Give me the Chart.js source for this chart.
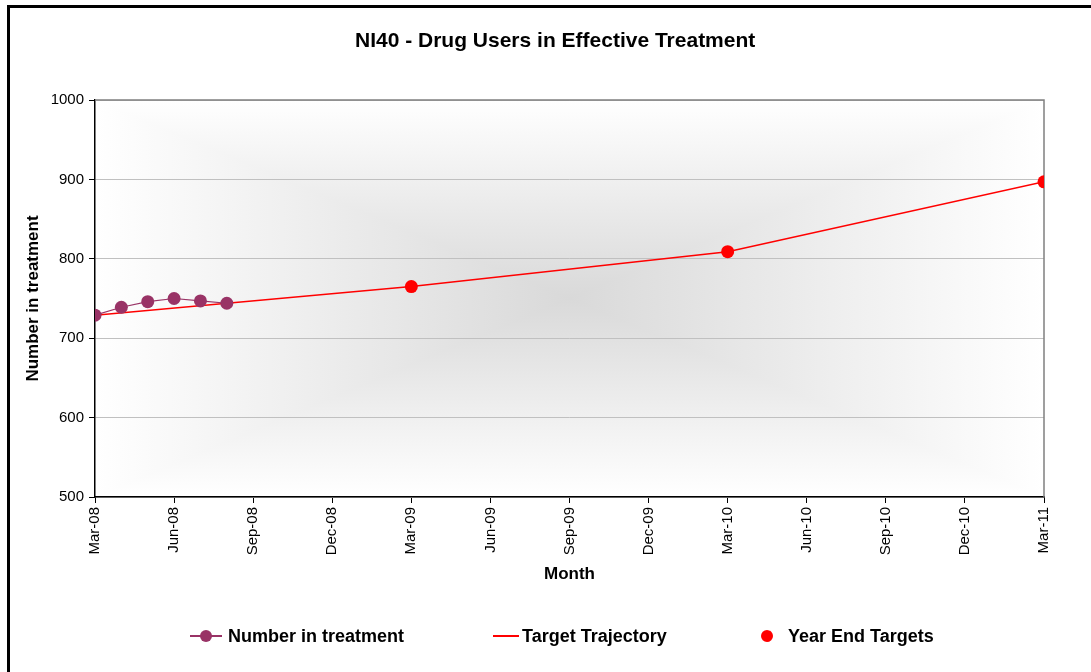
<!DOCTYPE html>
<html>
<head>
<meta charset="utf-8">
<script src="https://cdn.jsdelivr.net/npm/chart.js@4/dist/chart.umd.min.js"></script>
<style>
  html, body { margin: 0; padding: 0; background: #fff; overflow: hidden; }
  #wrap { position: relative; width: 1091px; height: 672px; }
  #frame { position: absolute; left: 7px; top: 5px; width: 1200px; height: 800px; border: 3px solid #000; box-sizing: border-box; pointer-events: none; }
  #title { position: absolute; left: 355px; width: 400px; top: 27px; text-align: center; font: bold 21px "Liberation Sans", Arial, sans-serif; line-height: 26px; white-space: nowrap; }
  .lg { position: absolute; top: 625px; height: 22px; font: bold 18px "Liberation Sans", Arial, sans-serif; color: #000; line-height: 22px; white-space: nowrap; }
  .lg i { position: absolute; display: block; }
</style>
</head>
<body>
<div id="wrap">
  <canvas id="chart" width="1091" height="672"></canvas>
  <div id="frame"></div>
  <div id="title">NI40 - Drug Users in Effective Treatment</div>
  <div class="lg" style="left:190px;padding-left:38px">
    <i style="left:0;top:10px;width:32px;height:1.5px;background:#993366"></i>
    <i style="left:10px;top:5px;width:12px;height:12px;border-radius:50%;background:#993366"></i>
    Number in treatment
  </div>
  <div class="lg" style="left:493px;padding-left:29px">
    <i style="left:0;top:10px;width:26px;height:1.5px;background:#ff0000"></i>
    Target Trajectory
  </div>
  <div class="lg" style="left:761px;padding-left:27px">
    <i style="left:0;top:5px;width:12px;height:12px;border-radius:50%;background:#ff0000"></i>
    Year End Targets
  </div>
</div>
<script>
'use strict';

// x axis runs in months from Mar-08 (0) to Mar-11 (36), labelled quarterly
const tickLabels = ['Mar-08','Jun-08','Sep-08','Dec-08','Mar-09','Jun-09','Sep-09',
                    'Dec-09','Mar-10','Jun-10','Sep-10','Dec-10','Mar-11'];

const treatMonths = [0, 1, 2, 3, 4, 5];
const treatValues = [729, 739, 746, 750, 747, 744];

const targetMonths = [0, 12, 24, 36];
const targetValues = [729, 765, 809, 897];

const yearEndMonths = [12, 24, 36];
const yearEndValues = [765, 809, 897];

const pts = (xs, ys) => xs.map((x, i) => ({ x, y: ys[i] }));

const FONT = '"Liberation Sans", Arial, sans-serif';

/* plot area fill: grey centre fading out to white at the edges */
const plotFill = {
  id: 'plotFill',
  beforeDraw(chart) {
    const { ctx, chartArea: a } = chart;
    const cx = (a.left + a.right) / 2, cy = (a.top + a.bottom) / 2;
    const mid = '#d9d9d9', edge = '#ffffff';
    const grad = (x0, y0, x1, y1) => {
      const g = ctx.createLinearGradient(x0, y0, x1, y1);
      g.addColorStop(0, mid);
      g.addColorStop(1, edge);
      return g;
    };
    ctx.save();
    // left/right halves cover the whole rect, top/bottom wedges go on top
    ctx.fillStyle = grad(cx, 0, a.left, 0);
    ctx.fillRect(a.left, a.top, cx - a.left + 1, a.bottom - a.top);
    ctx.fillStyle = grad(cx, 0, a.right, 0);
    ctx.fillRect(cx, a.top, a.right - cx, a.bottom - a.top);
    const wedge = (y, g) => {
      ctx.beginPath();
      ctx.moveTo(cx, cy); ctx.lineTo(a.left, y); ctx.lineTo(a.right, y); ctx.closePath();
      ctx.fillStyle = g;
      ctx.fill();
    };
    wedge(a.top, grad(0, cy, 0, a.top));
    wedge(a.bottom, grad(0, cy, 0, a.bottom));
    ctx.restore();
  },
  beforeDatasetsDraw(chart) {
    // grey frame on the top and right of the plot
    const { ctx, chartArea: a } = chart;
    ctx.save();
    ctx.strokeStyle = '#808080';
    ctx.lineWidth = 1.5;
    ctx.beginPath();
    ctx.moveTo(a.left, a.top); ctx.lineTo(a.right, a.top); ctx.lineTo(a.right, a.bottom);
    ctx.stroke();
    ctx.restore();
  }
};

new Chart(document.getElementById('chart'), {
  type: 'line',
  data: {
    datasets: [
      { label: 'Number in treatment', data: pts(treatMonths, treatValues),
        borderColor: '#993366', backgroundColor: '#993366', borderWidth: 1.2,
        pointRadius: 6.5, pointBorderWidth: 0, tension: 0 },
      { label: 'Target Trajectory', data: pts(targetMonths, targetValues),
        borderColor: '#ff0000', borderWidth: 1.5, pointRadius: 0, tension: 0 },
      { label: 'Year End Targets', data: pts(yearEndMonths, yearEndValues),
        showLine: false, backgroundColor: '#ff0000', borderColor: '#ff0000',
        pointRadius: 6.5, pointBorderWidth: 0 },
    ],
  },
  options: {
    responsive: false,
    animation: false,
    layout: { padding: { left: 15, right: 47, top: 100, bottom: 83 } },
    plugins: {
      legend: { display: false },
      tooltip: { enabled: false },
      title: { display: false },
    },
    scales: {
      x: {
        type: 'linear', min: 0, max: 36,
        afterFit(s) { s.height = 92; },
        border: { color: '#000', width: 1.5 },
        grid: { drawOnChartArea: false, tickLength: 6, tickColor: '#000' },
        ticks: { stepSize: 3, autoSkip: false, minRotation: 90, maxRotation: 90, padding: 4,
                 color: '#000', font: { family: FONT, size: 15 },
                 callback: v => tickLabels[v / 3] },
        title: { display: true, text: 'Month', color: '#000',
                 font: { family: FONT, size: 17, weight: 'bold' }, padding: { top: 4, bottom: 4 } },
      },
      y: {
        min: 500, max: 1000,
        afterFit(s) { s.width = 80; },
        border: { color: '#000', width: 1.5 },
        grid: { color: '#c0c0c0', tickLength: 6, tickColor: '#000' },
        ticks: { stepSize: 100, padding: 5, color: '#000', font: { family: FONT, size: 15 },
                 callback: v => String(v) },
        title: { display: true, text: 'Number in treatment', color: '#000',
                 font: { family: FONT, size: 17, weight: 'bold' }, padding: { top: 8, bottom: 8 } },
      },
    },
  },
  plugins: [plotFill],
});
</script>
</body>
</html>
